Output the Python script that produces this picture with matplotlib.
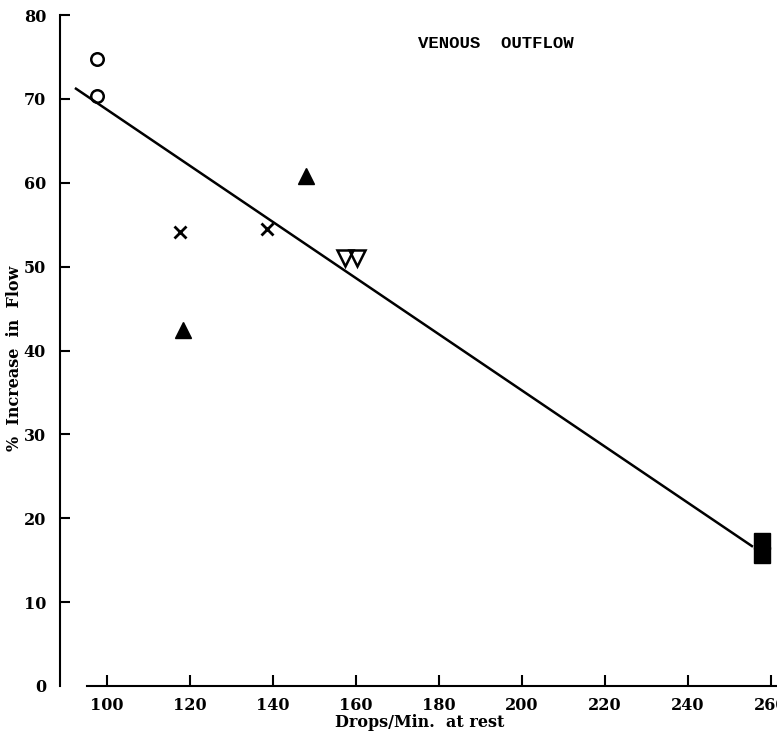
import matplotlib.pyplot as plt

# values
circle_x = [97.5, 97.5]
circle_y = [74.8, 70.3]
cross_x = [117.5, 138.5]
cross_y = [54.1, 54.5]
tri_up_x = [118.3, 148.0]
tri_up_y = [42.4, 60.8]
tri_down_x = [157.3, 160.2]
tri_down_y = [51.0, 51.0]
square_x = [258.0, 258.0]
square_y = [17.3, 15.6]
fit_x = [92.3, 255.7]
fit_y = [71.3, 16.6]

x_ticks = [100, 120, 140, 160, 180, 200, 220, 240, 260]
y_ticks = [0, 10, 20, 30, 40, 50, 60, 70, 80]

W, H = 777, 733
fig = plt.figure(figsize=(W / 100, H / 100), dpi=100)
left, right, top, bottom = 60, 777, 15, 686
ax = fig.add_axes([left / W, 1 - bottom / H, (right - left) / W, (bottom - top) / H])

ink = "black"
tick_font = {"family": "DejaVu Serif", "weight": "bold", "size": 11.5}

ax.plot(fit_x, fit_y, color=ink, lw=1.8, solid_capstyle="butt", zorder=2)
ax.plot(circle_x, circle_y, "o", ms=9, mfc="none", mec=ink, mew=1.8, zorder=3)
ax.plot(cross_x, cross_y, "x", ms=8, mec=ink, mew=2.0, zorder=3)
ax.plot(tri_up_x, tri_up_y, "^", ms=11, mfc=ink, mec=ink, zorder=3)
ax.plot(tri_down_x, tri_down_y, "v", ms=11, mfc="none", mec=ink, mew=1.8, zorder=3)
ax.plot(square_x, square_y, "s", ms=11, mfc=ink, mec=ink, zorder=3)

ax.set_xlim(88.7, 261.5)
ax.set_ylim(0, 80)

for s in ["top", "right"]:
    ax.spines[s].set_visible(False)
ax.spines["left"].set_linewidth(1.5)
ax.spines["bottom"].set_linewidth(1.5)
ax.spines["bottom"].set_bounds(95.2, 261.5)

ax.set_xticks(x_ticks)
ax.set_yticks(y_ticks)
ax.tick_params(axis="x", direction="in", length=8, width=1.5, pad=8)
ax.tick_params(axis="y", direction="in", length=7, width=1.5, pad=10)
for lab in ax.get_xticklabels() + ax.get_yticklabels():
    lab.set_fontproperties(tick_font)
ax.yaxis.get_major_ticks()[0].tick1line.set_visible(False)

ax.text(0.501, -0.061, "Drops/Min.  at rest", transform=ax.transAxes,
        ha="center", va="baseline", fontdict=tick_font)
ax.text(-0.063, 0.489, "%  Increase  in  Flow", transform=ax.transAxes,
        rotation=90, ha="center", va="center", fontdict=tick_font)
ax.text(496 / W, 1 - 44 / H, "VENOUS  OUTFLOW", transform=fig.transFigure,
        ha="center", va="center", family="Liberation Mono", weight="bold", size=12.5)

fig.savefig("out.png", dpi=100)
